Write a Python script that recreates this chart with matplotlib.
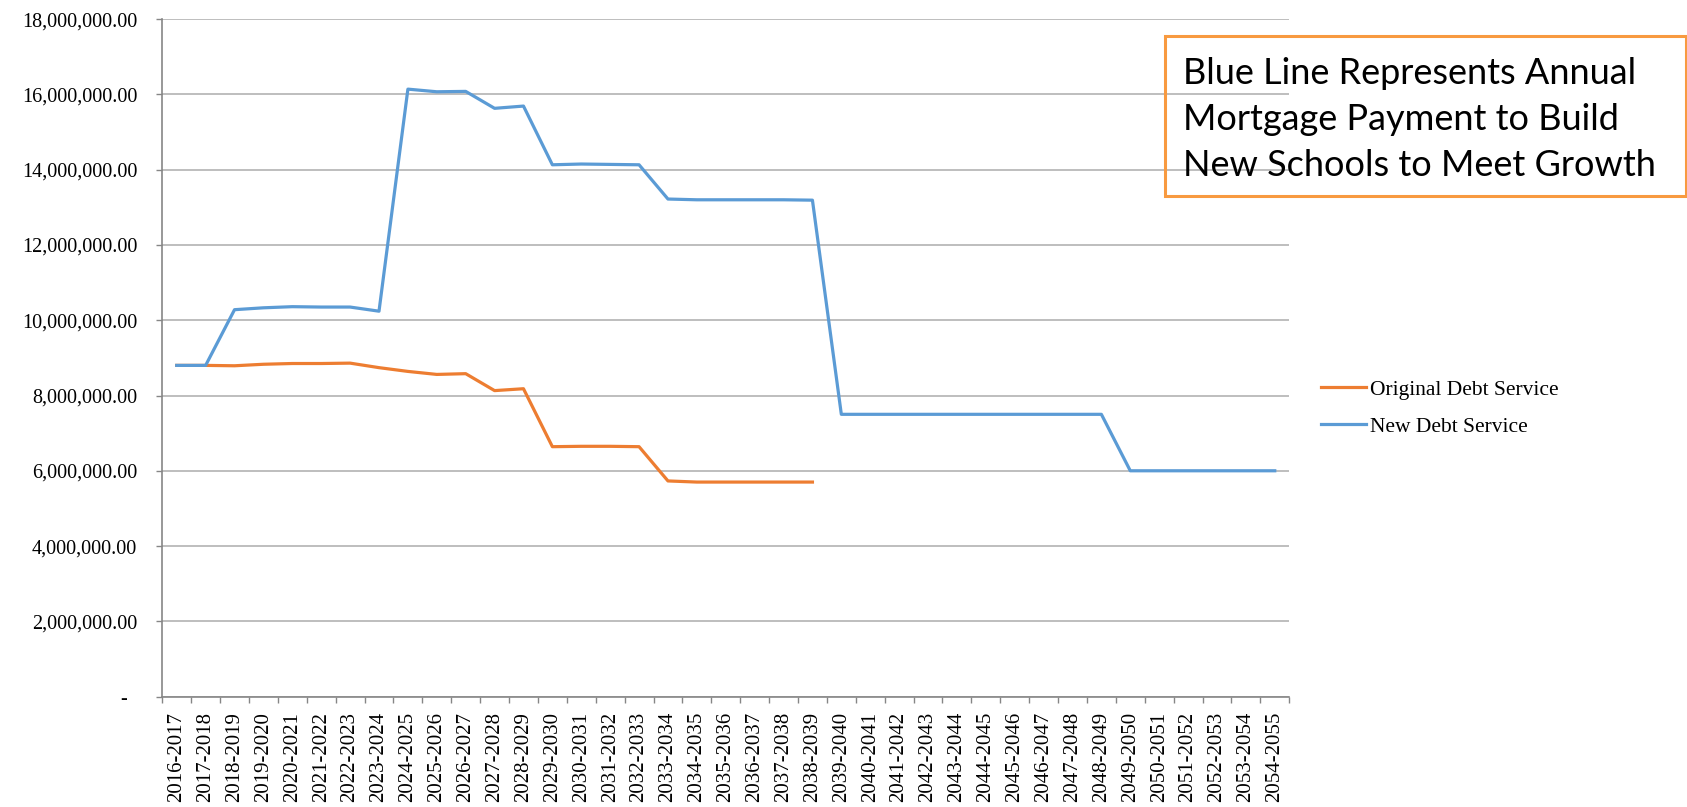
import numpy as np
import matplotlib.pyplot as plt
from matplotlib.patches import Rectangle

# years of the schedule
years = ["%d-%d" % (y, y + 1) for y in range(2016, 2055)]

# Original Debt Service (ends 2038-2039)
original = [8.80e6, 8.80e6, 8.79e6, 8.83e6, 8.85e6, 8.85e6, 8.86e6, 8.74e6,
            8.64e6, 8.56e6, 8.58e6, 8.13e6, 8.18e6, 6.64e6, 6.65e6, 6.65e6,
            6.64e6, 5.73e6, 5.70e6, 5.70e6, 5.70e6, 5.70e6, 5.70e6]

# New Debt Service
new = [8.80e6, 8.80e6, 10.28e6, 10.33e6, 10.36e6, 10.35e6, 10.35e6, 10.24e6,
       16.14e6, 16.07e6, 16.08e6, 15.63e6, 15.69e6, 14.13e6, 14.15e6, 14.14e6,
       14.13e6, 13.22e6, 13.20e6, 13.20e6, 13.20e6, 13.20e6, 13.19e6,
       7.50e6, 7.50e6, 7.50e6, 7.50e6, 7.50e6, 7.50e6, 7.50e6, 7.50e6, 7.50e6, 7.50e6,
       6.00e6, 6.00e6, 6.00e6, 6.00e6, 6.00e6, 6.00e6]

yticks = np.arange(0, 18e6 + 1, 2e6)
note = "Blue Line Represents Annual\nMortgage Payment to Build\nNew Schools to Meet Growth"

plt.rcParams['font.family'] = 'Liberation Serif'

fig = plt.figure(figsize=(16.87, 8.07), dpi=100)
ax = fig.add_axes([0.0962, 0.1368, 0.668, 0.8395])

x = np.arange(len(years))
ax.plot(x[:len(original)], original, color='#ED7D31', lw=2.3, label='Original Debt Service',
        solid_joinstyle='round')
ax.plot(x, new, color='#5B9BD5', lw=2.3, label='New Debt Service', solid_joinstyle='round')

ax.set_xlim(-0.5, len(years) - 0.5)
ax.set_ylim(0, 18e6)

# y axis
ax.set_yticks(yticks)
ax.set_yticklabels(["{:,.2f}".format(v) if v > 0 else "-  " for v in yticks])
ax.tick_params(axis='y', length=4.5, width=1, color='#868686', pad=13.5, labelsize=14.5)
ax.grid(axis='y', color='#b3b3b3', lw=1.2)
ax.set_axisbelow(True)

# x axis: ticks between categories, labels at centers
ax.set_xticks(np.arange(-0.5, len(years)), minor=False)
ax.set_xticklabels([])
ax.set_xticks(x, minor=True)
ax.set_xticklabels(years, minor=True, rotation=90)
ax.tick_params(axis='x', which='major', length=4.5, width=1, color='#868686')
ax.tick_params(axis='x', which='minor', length=0, pad=11, labelsize=15)

for s in ['top', 'right']:
    ax.spines[s].set_visible(False)
for s in ['left', 'bottom']:
    ax.spines[s].set_color('#868686')
    ax.spines[s].set_linewidth(1.2)

# legend at the right
h, l = ax.get_legend_handles_labels()
fig.legend(h, l, loc='center left', bbox_to_anchor=(0.7715, 0.494), frameon=False,
           fontsize=15.5, handlelength=2.1, handletextpad=0.2, labelspacing=0.8)

# orange note box
fig.patches.append(Rectangle((1165 / 1687, 1 - 196 / 807), 521 / 1687, 160 / 807,
                             transform=fig.transFigure, fill=False,
                             edgecolor='#F89A40', lw=2.2))
fig.text(1183 / 1687, 1 - 176 / 807, note, family='Lato', fontsize=26,
         va='baseline', ha='left', linespacing=1.48)

fig.savefig('out.png', dpi=100)
